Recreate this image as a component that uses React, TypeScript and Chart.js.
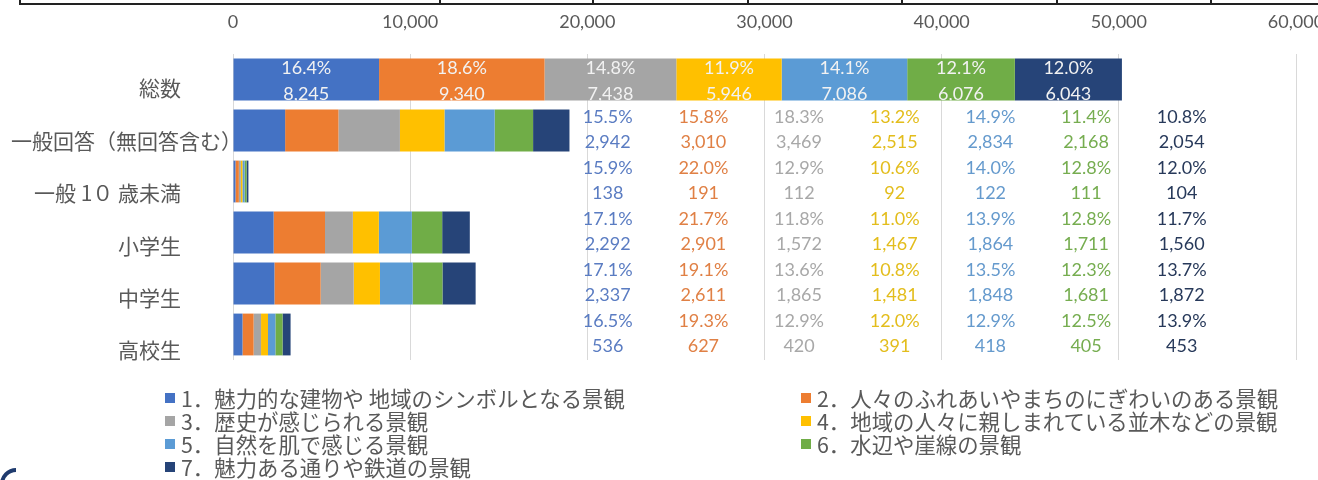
import React, { useEffect, useRef } from 'react';
import { Chart, registerables } from 'chart.js';

Chart.register(...registerables);

// ---- data ----
const categories = ['総数', '一般回答（無回答含む）', '一般 1０ 歳未満', '小学生', '中学生', '高校生'];

const seriesNames = [
  '1．魅力的な建物や 地域のシンボルとなる景観',
  '2．人々のふれあいやまちのにぎわいのある景観',
  '3．歴史が感じられる景観',
  '4．地域の人々に親しまれている並木などの景観',
  '5．自然を肌で感じる景観',
  '6．水辺や崖線の景観',
  '7．魅力ある通りや鉄道の景観',
];

const s1Values = [8245, 2942, 138, 2292, 2337, 536];
const s2Values = [9340, 3010, 191, 2901, 2611, 627];
const s3Values = [7438, 3469, 112, 1572, 1865, 420];
const s4Values = [5946, 2515, 92, 1467, 1481, 391];
const s5Values = [7086, 2834, 122, 1864, 1848, 418];
const s6Values = [6076, 2168, 111, 1711, 1681, 405];
const s7Values = [6043, 2054, 104, 1560, 1872, 453];

const s1Percent = [16.4, 15.5, 15.9, 17.1, 17.1, 16.5];
const s2Percent = [18.6, 15.8, 22.0, 21.7, 19.1, 19.3];
const s3Percent = [14.8, 18.3, 12.9, 11.8, 13.6, 12.9];
const s4Percent = [11.9, 13.2, 10.6, 11.0, 10.8, 12.0];
const s5Percent = [14.1, 14.9, 14.0, 13.9, 13.5, 12.9];
const s6Percent = [12.1, 11.4, 12.8, 12.8, 12.3, 12.5];
const s7Percent = [12.0, 10.8, 12.0, 11.7, 13.7, 13.9];

const xTickMin = 0;
const xTickMax = 60000;
const xTickStep = 10000;

// ---- styles ----
const barColors = ['#4472C4', '#ED7D31', '#A5A5A5', '#FFC000', '#5B9BD5', '#70AD47', '#264478'];
const tableTextColors = ['#5a7cc2', '#e08045', '#a8a8a8', '#e3bd1c', '#659acd', '#76ad50', '#27395a'];
const seriesValues = [s1Values, s2Values, s3Values, s4Values, s5Values, s6Values, s7Values];
const seriesPercent = [s1Percent, s2Percent, s3Percent, s4Percent, s5Percent, s6Percent, s7Percent];

const NUM_FONT = '18px Lato, "Liberation Sans", sans-serif';
const JP_FONT_FAMILY = '"Noto Sans CJK JP", "Noto Sans", sans-serif';
const GRAY_TEXT = '#595959';

const fmtNum = (v: number) => v.toLocaleString('en-US');
const fmtPct = (v: number) => v.toFixed(1) + '%';

const labelsPlugin = {
  id: 'labelsPlugin',
  afterDatasetsDraw(chart: any) {
    const ctx = chart.ctx as CanvasRenderingContext2D;
    const xs = chart.scales.x;
    const ys = chart.scales.y;
    ctx.save();
    ctx.font = NUM_FONT;
    ctx.textAlign = 'center';
    ctx.textBaseline = 'middle';
    // first row: labels inside bars, clipped to the bar
    chart.data.datasets.forEach((_ds: any, j: number) => {
      const el = chart.getDatasetMeta(j).data[0];
      const { x, y, base, height } = el.getProps(['x', 'y', 'base', 'height'], true);
      ctx.save();
      ctx.beginPath();
      ctx.rect(Math.min(base, x), y - height / 2, Math.abs(x - base), height);
      ctx.clip();
      ctx.fillStyle = '#f2f2f2';
      const cx = (base + x) / 2;
      ctx.fillText(fmtPct(seriesPercent[j][0]), cx, y - 11);
      ctx.fillText(fmtNum(seriesValues[j][0]), cx, y + 15);
      ctx.restore();
    });
    // remaining rows: table of values to the right
    const colStart = 21150;
    const colStep = 5400;
    for (let i = 1; i < categories.length; i++) {
      const cy = ys.getPixelForValue(i);
      for (let j = 0; j < seriesValues.length; j++) {
        const cx = xs.getPixelForValue(colStart + j * colStep);
        ctx.fillStyle = tableTextColors[j];
        ctx.fillText(fmtPct(seriesPercent[j][i]), cx, cy - 13);
        ctx.fillText(fmtNum(seriesValues[j][i]), cx, cy + 12);
      }
    }
    ctx.restore();
  },
  afterDraw(chart: any) {
    const ctx = chart.ctx as CanvasRenderingContext2D;
    const ys = chart.scales.y;
    const area = chart.chartArea;
    ctx.save();
    // category labels
    ctx.font = '21px ' + JP_FONT_FAMILY;
    ctx.fillStyle = GRAY_TEXT;
    ctx.textBaseline = 'middle';
    categories.forEach((c, i) => {
      const y = ys.getPixelForValue(i) + 9 + i * 1.4;
      const right = area.left - 52;
      const w = ctx.measureText(c).width;
      if (right - w < 10) {
        ctx.textAlign = 'left';
        ctx.fillText(c, 11, y);
      } else {
        ctx.textAlign = 'right';
        ctx.fillText(c, right, y);
      }
    });
    // decorative frame remnants (top border of slide table, bottom-left corner)
    ctx.strokeStyle = '#222';
    ctx.lineWidth = 2;
    ctx.beginPath();
    ctx.moveTo(19, 4);
    ctx.lineTo(chart.width, 4);
    [20, 440, 593, 748, 902, 1057, 1211].forEach((x) => {
      ctx.moveTo(x, 0);
      ctx.lineTo(x, 4);
    });
    ctx.stroke();
    ctx.strokeStyle = '#1f3b6e';
    ctx.lineWidth = 4;
    ctx.beginPath();
    ctx.arc(16, chart.height + 4, 14, Math.PI, Math.PI * 1.5);
    ctx.stroke();
    ctx.restore();
  },
};

export default function App() {
  const canvasRef = useRef<HTMLCanvasElement | null>(null);

  useEffect(() => {
    document.body.style.margin = '0';
    const canvas = canvasRef.current;
    if (!canvas) return;
    const chart = new Chart(canvas, {
      type: 'bar',
      data: {
        labels: categories,
        datasets: seriesNames.map((name, j) => ({
          label: name,
          data: seriesValues[j],
          backgroundColor: barColors[j],
          borderWidth: 0,
          barPercentage: 0.82,
          categoryPercentage: 1,
        })),
      },
      options: {
        indexAxis: 'y',
        responsive: false,
        animation: false,
        devicePixelRatio: 1,
        layout: { padding: { left: 233, right: 22, top: 0, bottom: 120 } },
        plugins: {
          legend: { display: false },
          tooltip: { enabled: false },
        },
        scales: {
          x: {
            position: 'top',
            stacked: true,
            min: xTickMin,
            max: xTickMax,
            ticks: {
              stepSize: xTickStep,
              padding: 21,
              color: GRAY_TEXT,
              font: { family: 'Lato, "Liberation Sans", sans-serif', size: 18 },
              callback: (v: any) => fmtNum(Number(v)),
              maxRotation: 0,
            },
            grid: { color: '#d9d9d9', lineWidth: 1, drawTicks: false },
            border: { display: false },
            afterFit: (scale: any) => {
              scale.height = 54;
              scale.paddingLeft = 0;
              scale.paddingRight = 0;
            },
          },
          y: {
            stacked: true,
            display: false,
          },
        },
      },
      plugins: [labelsPlugin],
    } as any);
    return () => chart.destroy();
  }, []);

  const order = [0, 1, 2, 3, 4, 5, 6];

  return (
    <div style={{ position: 'absolute', left: 0, top: 0, width: 1318, height: 480, background: '#fff', overflow: 'hidden' }}>
      <canvas ref={canvasRef} width={1318} height={480} style={{ display: 'block', width: 1318, height: 480 }} />
      <div
        style={{
          position: 'absolute',
          left: 165,
          top: 386,
          display: 'grid',
          gridTemplateColumns: '636px 510px',
          gridAutoRows: '23px',
          fontFamily: JP_FONT_FAMILY,
          fontSize: 21.4,
          color: GRAY_TEXT,
          lineHeight: '23px',
        }}
      >
        {order.map((j) => (
          <div key={j} style={{ display: 'flex', alignItems: 'center', whiteSpace: 'nowrap' }}>
            <span style={{ display: 'inline-block', width: 10, height: 10, background: barColors[j], marginRight: 6 }} />
            <span>{seriesNames[j]}</span>
          </div>
        ))}
      </div>
    </div>
  );
}
